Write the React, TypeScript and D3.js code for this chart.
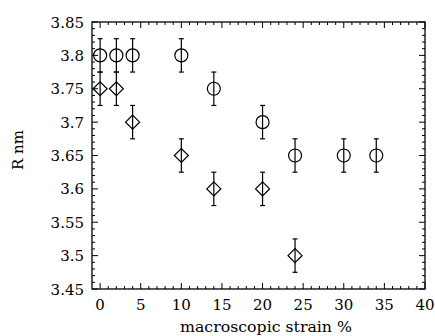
import React from "react";
import * as d3 from "d3";

const circleX = [0, 2, 4, 10, 14, 20, 24, 30, 34];
const circleY = [3.8, 3.8, 3.8, 3.8, 3.75, 3.7, 3.65, 3.65, 3.65];
const diamondX = [0, 2, 4, 10, 14, 20, 24];
const diamondY = [3.75, 3.75, 3.7, 3.65, 3.6, 3.6, 3.5];
const errorHalf = 0.025;
const xTicks = [0, 5, 10, 15, 20, 25, 30, 35, 40];
const yTicks = [3.45, 3.5, 3.55, 3.6, 3.65, 3.7, 3.75, 3.8, 3.85];
const xLabel = "macroscopic strain %";
const yLabel = "R nm";

const W = 435, H = 336;
const L = 92, R = 425, T = 22, B = 289;

export default function App() {
  const x = d3.scaleLinear().domain([-1, 40]).range([L, R]);
  const y = d3.scaleLinear().domain([3.45, 3.85]).range([B, T]);
  const xMinor = d3.range(0, 41, 1);
  const yMinor = d3.range(0, 41, 1).map((i) => 3.45 + i * 0.01);
  const font = "'DejaVu Serif', serif";
  const sw = 1.2;
  const isMajorX = (v: number) => v % 5 === 0;
  const cap = 2.5;
  const rC = 6.5, rD = 7;
  const errBar = (cx: number, cy: number, k: string) => {
    const y1 = y(cy - errorHalf), y2 = y(cy + errorHalf), px = x(cx);
    return (
      <g key={k} stroke="#000" strokeWidth={sw}>
        <line x1={px} x2={px} y1={y1} y2={y2} />
        <line x1={px - cap} x2={px + cap} y1={y1} y2={y1} />
        <line x1={px - cap} x2={px + cap} y1={y2} y2={y2} />
      </g>
    );
  };
  return (
    <svg width={W} height={H} style={{ position: "absolute", left: 0, top: 0 }}>
      <rect width={W} height={H} fill="#fff" />
      <g stroke="#000" strokeWidth={1}>
        {xMinor.map((v) => {
          const len = isMajorX(v) ? 6 : 3;
          const px = x(v);
          return (
            <g key={"xt" + v}>
              <line x1={px} x2={px} y1={B} y2={B - len} />
              <line x1={px} x2={px} y1={T} y2={T + len} />
            </g>
          );
        })}
        {yMinor.map((v, i) => {
          const len = i % 5 === 0 ? 6 : 3;
          const py = y(v);
          return (
            <g key={"yt" + i}>
              <line x1={L} x2={L + len} y1={py} y2={py} />
              <line x1={R} x2={R - len} y1={py} y2={py} />
            </g>
          );
        })}
      </g>
      <rect x={L} y={T} width={R - L} height={B - T} fill="none" stroke="#000" strokeWidth={1.3} />
      <g style={{ fontFamily: font, fontSize: "15px" }} fill="#000">
        {xTicks.map((v) => (
          <text key={"xl" + v} x={x(v)} y={310} textAnchor="middle">{v}</text>
        ))}
        {yTicks.map((v) => (
          <text key={"yl" + v} x={84} y={y(v) + 5.5} textAnchor="end">{String(+v.toFixed(2))}</text>
        ))}
        <text x={266} y={332} textAnchor="middle" textLength={172} lengthAdjust="spacingAndGlyphs">{xLabel}</text>
        <text transform={`translate(23,150) rotate(-90)`} textAnchor="middle">{yLabel}</text>
      </g>
      <g fill="none" stroke="#000" strokeWidth={sw}>
        {circleX.map((cx, i) => (
          <g key={"c" + i}>
            {errBar(cx, circleY[i], "ce" + i)}
            <circle cx={x(cx)} cy={y(circleY[i])} r={rC} fill="none" />
          </g>
        ))}
        {diamondX.map((dx, i) => {
          const px = x(dx), py = y(diamondY[i]);
          return (
            <g key={"d" + i}>
              {errBar(dx, diamondY[i], "de" + i)}
              <path d={`M${px - rD},${py}L${px},${py - rD}L${px + rD},${py}L${px},${py + rD}Z`} fill="none" />
            </g>
          );
        })}
      </g>
    </svg>
  );
}
